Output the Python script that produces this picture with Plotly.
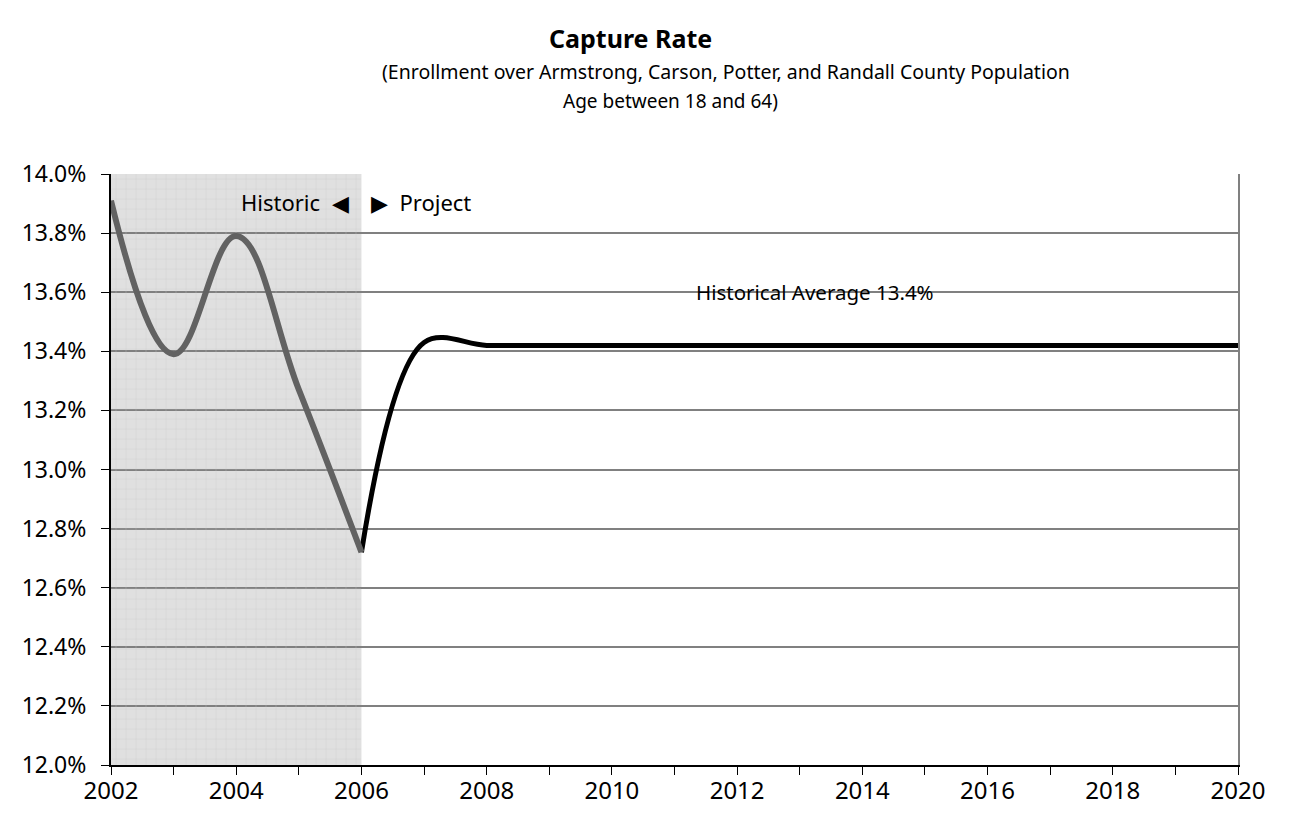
import plotly.graph_objects as go

# Capture rate (%) by year
hist_years = [2002, 2003, 2004, 2005, 2006]
hist_rate = [13.91, 13.39, 13.79, 13.27, 12.72]

proj_years = [2006, 2007, 2008, 2009, 2010, 2011, 2012, 2013, 2014, 2015, 2016,
              2017, 2018, 2019, 2020]
proj_rate = [12.72, 13.43, 13.42, 13.42, 13.42, 13.42, 13.42, 13.42, 13.42, 13.42,
             13.42, 13.42, 13.42, 13.42, 13.42]

y_ticks = [12.0, 12.2, 12.4, 12.6, 12.8, 13.0, 13.2, 13.4, 13.6, 13.8, 14.0]
x_ticks = list(range(2002, 2021))
x_labels = [str(y) if y % 2 == 0 else "" for y in x_ticks]

Y_MIN, Y_MAX = 12.0, 14.0
X_MIN, X_MAX = 2002, 2020
HIST_START, HIST_END = 2002, 2006

FONT = "Noto Sans"
W, H = 1293, 817
M_L, M_R, M_T, M_B = 111, 55, 174, 52
PLOT_W, PLOT_H = W - M_L - M_R, H - M_T - M_B


def px_x(x):
    return (x - M_L) / PLOT_W


def px_y(y):
    return (H - M_B - y) / PLOT_H


fig = go.Figure()

# minor grid texture over the historic period
fig.add_trace(go.Bar(
    x=[(HIST_START + HIST_END) / 2], y=[Y_MAX - Y_MIN], base=[Y_MIN],
    width=[HIST_END - HIST_START],
    marker=dict(color="rgba(0,0,0,0)", line=dict(width=0),
                pattern=dict(shape="+", fgcolor="#c4c4c4", bgcolor="rgba(0,0,0,0)",
                             size=10, solidity=0.12)),
    hoverinfo="skip", showlegend=False,
))

# projected line, then the historic line on top
fig.add_trace(go.Scatter(
    x=proj_years, y=proj_rate, mode="lines",
    line=dict(color="#000000", width=5, shape="spline", smoothing=1.0),
    showlegend=False,
))
fig.add_trace(go.Scatter(
    x=hist_years, y=hist_rate, mode="lines",
    line=dict(color="#626262", width=6, shape="spline", smoothing=1.15),
    showlegend=False,
))

# shaded historic block below the grid lines
fig.add_shape(type="rect", xref="x", yref="y", x0=HIST_START, x1=HIST_END,
              y0=Y_MIN, y1=Y_MAX, fillcolor="#e0e0e0", line=dict(width=0),
              layer="below")

ann_font = dict(family=FONT, size=22, color="#000000")
fig.add_annotation(x=HIST_END, y=13.905, xref="x", yref="y",
                   text="Historic\u00a0\u00a0\u25c0",
                   showarrow=False, xanchor="right", xshift=-10, font=ann_font)
fig.add_annotation(x=HIST_END, y=13.905, xref="x", yref="y",
                   text="\u25b6\u00a0\u00a0Project",
                   showarrow=False, xanchor="left", xshift=8, font=ann_font)
fig.add_annotation(x=2013.25, y=13.6, xref="x", yref="y",
                   text="Historical Average 13.4%", showarrow=False,
                   font=dict(family=FONT, size=20.5, color="#000000"))

# title block
title_lines = [
    ("<b>Capture Rate</b>", 630, 38, 25),
    ("(Enrollment over Armstrong, Carson, Potter, and Randall County Population",
     726, 72, 19.5),
    ("Age between 18 and 64)", 670, 101, 19),
]
for text, cx, cy, size in title_lines:
    fig.add_annotation(x=px_x(cx), y=px_y(cy), xref="paper", yref="paper",
                       xanchor="center", yanchor="middle", text=text,
                       showarrow=False,
                       font=dict(family=FONT, size=size, color="#000000"))

fig.update_layout(
    width=W, height=H,
    margin=dict(l=M_L, r=M_R, t=M_T, b=M_B, autoexpand=False),
    paper_bgcolor="#ffffff", plot_bgcolor="#ffffff",
    bargap=0, barmode="overlay",
    font=dict(family=FONT, size=22, color="#000000"),
    xaxis=dict(range=[X_MIN, X_MAX], tickmode="array", tickvals=x_ticks,
               ticktext=x_labels, ticks="outside", ticklen=8, tickcolor="#000000",
               showline=True, linecolor="#000000", linewidth=2, showgrid=False,
               zeroline=False, automargin=False, ticklabelstandoff=-5,
               tickfont=dict(family=FONT, size=24)),
    yaxis=dict(range=[Y_MIN, Y_MAX], tickmode="array", tickvals=y_ticks,
               ticktext=[f"{v:.1f}%" for v in y_ticks], ticks="outside", ticklen=8,
               tickcolor="#000000", showline=True, linecolor="#000000", linewidth=2,
               showgrid=True, gridcolor="#808080", gridwidth=1.5, zeroline=False,
               automargin=False, ticklabelstandoff=10,
               tickfont=dict(family=FONT, size=23)),
    yaxis2=dict(overlaying="y", side="right", range=[Y_MIN, Y_MAX], showline=True,
                linecolor="#808080", linewidth=2, showticklabels=False, ticks="",
                showgrid=False, zeroline=False, automargin=False),
)

fig.add_trace(go.Scatter(x=[X_MAX], y=[proj_rate[-1]], yaxis="y2", mode="markers",
                         marker=dict(opacity=0), hoverinfo="skip", showlegend=False))

fig.write_html("out.html")
